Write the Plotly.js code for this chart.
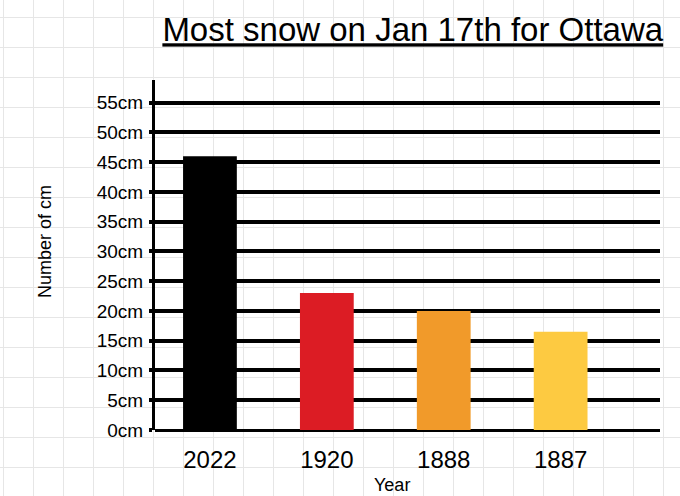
<!DOCTYPE html>
<html>
<head>
<meta charset="utf-8">
<script src="https://cdn.plot.ly/plotly-3.0.1.min.js"></script>
<style>
html,body{margin:0;padding:0;}
body{
  width:680px;height:496px;overflow:hidden;
  background-color:#ffffff;
  background-image:
    linear-gradient(to right, #e6e6e6 1px, transparent 1px),
    linear-gradient(to bottom, #e6e6e6 1px, transparent 1px);
  background-size:30px 30px;
  background-position:3px 17px;
}
#chart{width:680px;height:496px;}
</style>
</head>
<body>
<div id="chart"></div>
<script>
const years = ["2022", "1920", "1888", "1887"];
const snowCm = [46, 23, 20, 16.5];
const barColors = ["#000000", "#dc1c24", "#f19a2a", "#fdca41"];
const yTickVals = [0, 5, 10, 15, 20, 25, 30, 35, 40, 45, 50, 55];
const yTickText = yTickVals.map(v => v + "cm");
const yAxisTitle = "Number of cm";
const xAxisTitle = "Year";
const chartTitle = "Most snow on Jan 17th for Ottawa";

const trace = {
  type: "bar",
  x: years,
  y: snowCm,
  marker: {color: barColors, line: {width: 0}},
  width: 0.46,
  hoverinfo: "x+y"
};

const layout = {
  width: 680,
  height: 496,
  paper_bgcolor: "rgba(0,0,0,0)",
  plot_bgcolor: "rgba(0,0,0,0)",
  margin: {l: 155, r: 20, t: 80, b: 66},
  font: {family: "Liberation Sans, Arial, sans-serif", color: "#000"},
  title: {
    text: "<u>" + chartTitle + "</u>",
    font: {size: 33, color: "#000"},
    x: 0.607, xref: "container", xanchor: "center",
    y: 0.94, yref: "container", yanchor: "middle"
  },
  xaxis: {
    type: "category",
    range: [-0.47, 3.85],
    showgrid: false,
    zeroline: false,
    showline: false,
    ticks: "",
    ticklabelstandoff: 13,
    tickfont: {size: 24},
    fixedrange: true
  },
  yaxis: {
    range: [0, 58.8],
    tickvals: yTickVals,
    ticktext: yTickText,
    tickfont: {size: 19},
    showgrid: true,
    gridcolor: "#000",
    gridwidth: 4,
    zeroline: true,
    zerolinecolor: "#000",
    zerolinewidth: 3,
    showline: true,
    linecolor: "#000",
    linewidth: 3,
    ticks: "outside",
    ticklen: 3,
    tickwidth: 4,
    tickcolor: "#000",
    ticklabelstandoff: 2,
    automargin: false,
    fixedrange: true
  },
  annotations: [
    {
      text: yAxisTitle, textangle: -90,
      xref: "paper", yref: "paper",
      x: -0.218, y: 0.54, xanchor: "center", yanchor: "middle",
      showarrow: false, font: {size: 18, color: "#000"}
    },
    {
      text: xAxisTitle,
      xref: "paper", yref: "paper",
      x: 0.469, y: -0.156, xanchor: "center", yanchor: "middle",
      showarrow: false, font: {size: 18, color: "#000"}
    }
  ],
  showlegend: false
};

Plotly.newPlot("chart", [trace], layout, {displayModeBar: false, staticPlot: true});
</script>
</body>
</html>
